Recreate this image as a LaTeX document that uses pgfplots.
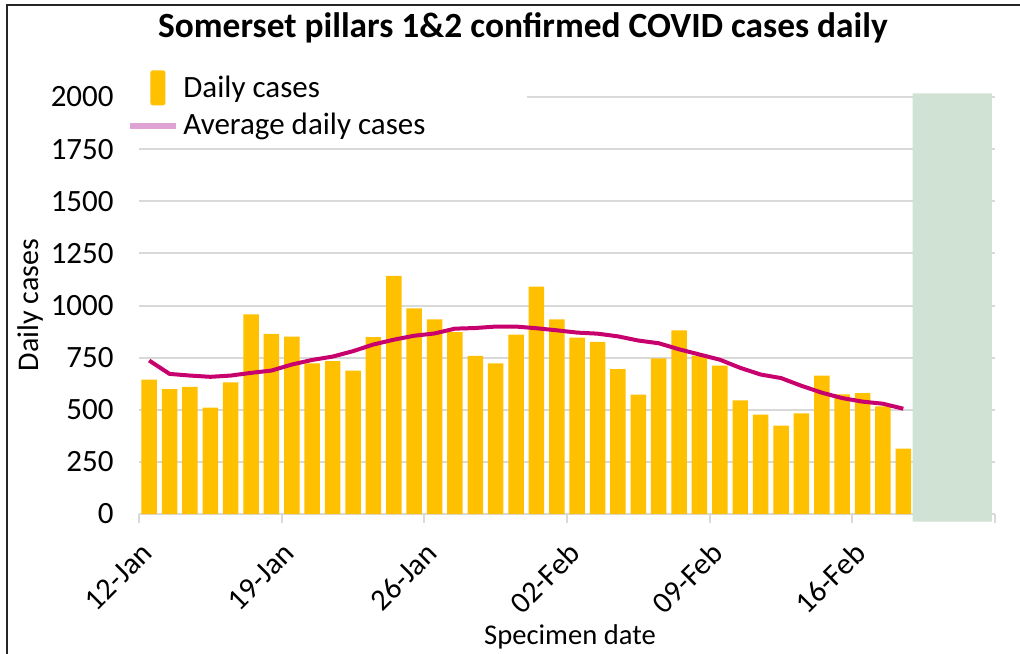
\documentclass[border=0pt]{standalone}
\usepackage{fontspec}
\setmainfont{Carlito}
\usepackage{pgfplots}
\pgfplotsset{compat=1.18}
\definecolor{gold}{HTML}{FFC000}
\definecolor{avgline}{HTML}{C8006E}
\definecolor{avgleg}{HTML}{DFA3D3}
\definecolor{shade}{HTML}{CFE2D4}
\definecolor{gridc}{HTML}{D9D9D9}
\begin{document}
\begin{tikzpicture}
\useasboundingbox (0,0) rectangle (510pt,-326.5pt);
\begin{axis}[
  at={(69.5pt,-257pt)}, anchor=south west,
  scale only axis, width=428pt, height=208.5pt,
  xmin=-0.5, xmax=41.5, ymin=0, ymax=2000,
  clip=false,
  axis lines*=left,
  axis line style={gridc, line width=1pt},
  y axis line style={draw=none},
  ytick={0,250,...,2000},
  xtick={-0.5,6.5,13.5,20.5,27.5,34.5,41.5},
  xticklabels={12-Jan,19-Jan,26-Jan,02-Feb,09-Feb,16-Feb,},
  ymajorgrids, grid style={gridc, line width=1pt},
  tick align=outside,
  major tick length=4.5pt,
  xtick style={gridc, line width=1pt},
  ytick style={draw=none},
  /pgf/number format/assume math mode=true,
  /pgf/number format/1000 sep={},
  yticklabel style={font=\fontsize{15.5}{17}\selectfont, inner sep=0pt, anchor=east, xshift=-8pt},
  xticklabel style={font=\fontsize{15.2}{17}\selectfont, inner sep=0pt, xshift=4pt, yshift=-12.5pt, rotate=45, anchor=east},
  title={Somerset pillars 1\&2 confirmed COVID cases daily},
  title style={at={(axis description cs:0.4486,1.1151)}, anchor=base, font=\bfseries\fontsize{17.7}{20}\selectfont},
  xlabel={Specimen date},
  xlabel style={at={(axis description cs:0.5035,-0.3118)}, anchor=base, font=\fontsize{14.3}{16}\selectfont},
  ylabel={Daily cases},
  ylabel style={at={(axis description cs:-0.1273,0.501)}, anchor=center, rotate=0, font=\fontsize{15}{17}\selectfont},
  legend style={at={(axis description cs:-0.014,1.065)}, anchor=north west, draw=none, fill=white,
    font=\fontsize{15.5}{18}\selectfont, inner sep=0pt, row sep=2pt,
    /tikz/every even column/.append style={column sep=3pt}},
  legend cell align=left,
]
\addplot[fill=shade, draw=none, forget plot] coordinates {(37.46,-37) (41.35,-37) (41.35,2018) (37.46,2018) (37.46,-37)};
\addplot[ybar, bar width=0.76, fill=gold, draw=none,
  legend image code/.code={\fill[gold, rounded corners=1.2pt] (10pt,-8.75pt) rectangle (17.5pt,8.75pt);}]
coordinates {
(0,644) (1,599) (2,610) (3,510) (4,631) (5,957) (6,864) (7,851) (8,723) (9,733)
(10,688) (11,848) (12,1142) (13,986) (14,934) (15,872) (16,759) (17,722) (18,860) (19,1090)
(20,934) (21,846) (22,825) (23,695) (24,572) (25,747) (26,881) (27,760) (28,712) (29,545)
(30,477) (31,424) (32,483) (33,664) (34,574) (35,580) (36,516) (37,314)
};
\addlegendentry{Daily cases}
\addplot[avgline, line width=2pt, mark=none, line join=round,
  legend image code/.code={\draw[avgleg, line width=3pt] (0pt,0pt) -- (23pt,0pt);}]
coordinates {
(0,736) (1,672) (2,664) (3,658) (4,664) (5,677) (6,688) (7,717) (8,739) (9,755)
(10,781) (11,813) (12,836) (13,855) (14,866) (15,889) (16,892) (17,899) (18,899) (19,891)
(20,881) (21,870) (22,865) (23,852) (24,832) (25,819) (26,790) (27,765) (28,740) (29,701)
(30,669) (31,652) (32,615) (33,582) (34,556) (35,539) (36,529) (37,505)
};
\addlegendentry{Average daily cases\rule{49pt}{0pt}}
\end{axis}
\draw[black!85, line width=1pt] (3.25pt,-340pt) -- (3.25pt,-2.5pt) -- (520pt,-2.5pt);
\end{tikzpicture}
\end{document}
